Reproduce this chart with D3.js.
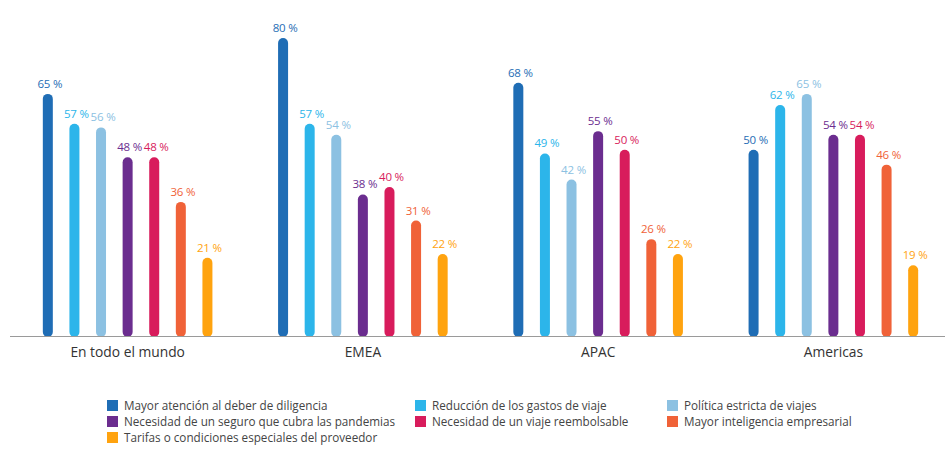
<!DOCTYPE html>
<html><head><meta charset="utf-8">
<script src="https://cdn.jsdelivr.net/npm/d3@7"></script>
<style>body{margin:0;background:#fff;}svg{display:block;font-family:"Open Sans",sans-serif;}</style>
</head><body>
<svg id="c" width="948" height="449"></svg>
<script>
const categories = ["En todo el mundo", "EMEA", "APAC", "Americas"];
const seriesNames = [
  "Mayor atención al deber de diligencia",
  "Reducción de los gastos de viaje",
  "Política estricta de viajes",
  "Necesidad de un seguro que cubra las pandemias",
  "Necesidad de un viaje reembolsable",
  "Mayor inteligencia empresarial",
  "Tarifas o condiciones especiales del proveedor"
];
const colors = ["#1f6db5", "#2cb5ea", "#8cc1e2", "#6b2d8f", "#d81c5c", "#f06238", "#ffa30f"];
const sMayorAtencion = [65, 80, 68, 50];
const sReduccion = [57, 57, 49, 62];
const sPolitica = [56, 54, 42, 65];
const sSeguro = [48, 38, 55, 54];
const sReembolsable = [48, 40, 50, 54];
const sInteligencia = [36, 31, 26, 46];
const sTarifas = [21, 22, 22, 19];
const series = [sMayorAtencion, sReduccion, sPolitica, sSeguro, sReembolsable, sInteligencia, sTarifas];

const svg = d3.select("#c");
const baseY = 336;
const y = d3.scaleLinear().domain([0, 80]).range([baseY, 38]);
const x0 = d3.scaleBand().domain(categories).range([10, 951]).padding(0);
const innerW = 169.6;
const x1 = d3.scaleBand().domain(d3.range(7)).range([0, innerW]).paddingInner(0.624).paddingOuter(0);
const offset = (x0.bandwidth() - innerW) / 2;
const bw = x1.bandwidth();

categories.forEach((c, ci) => {
  const g = svg.append("g").attr("transform", `translate(${x0(c) + offset},0)`);
  series.forEach((s, si) => {
    const v = s[ci];
    const bx = x1(si);
    g.append("rect")
      .attr("x", bx).attr("y", y(v))
      .attr("width", bw).attr("height", baseY - y(v) + 1)
      .attr("rx", bw / 2).attr("ry", Math.min(bw / 2, 5))
      .attr("fill", colors[si]);
    g.append("text")
      .attr("x", bx + bw / 2 + 2).attr("y", y(v) - 6)
      .attr("text-anchor", "middle")
      .attr("font-size", 11.5)
      .attr("letter-spacing", -0.2)
      .attr("fill", colors[si])
      .text(v + " %");
  });
});

svg.append("line").attr("x1", 10).attr("x2", 945).attr("y1", baseY + 0.5).attr("y2", baseY + 0.5)
  .attr("stroke", "#9a9a9a").attr("stroke-width", 1.2);

const xAxis = d3.axisBottom(x0).tickSize(0).tickPadding(11);
const ax = svg.append("g").attr("transform", `translate(0,${baseY})`).call(xAxis);
ax.select(".domain").remove();
ax.selectAll("text").attr("font-size", 13.8).attr("fill", "#333").attr("font-family", "'Open Sans',sans-serif");

const legCols = [107, 415, 667];
const legRows = [406, 422, 438];
seriesNames.forEach((n, i) => {
  const col = i % 3, row = Math.floor(i / 3);
  const lg = svg.append("g").attr("transform", `translate(${legCols[col]},${legRows[row]})`);
  lg.append("rect").attr("x", 0).attr("y", -6).attr("width", 11).attr("height", 11).attr("fill", colors[i]);
  lg.append("text").attr("x", 17).attr("y", 4).attr("font-size", 11.7).attr("fill", "#444").text(n);
});
</script>
</body></html>
